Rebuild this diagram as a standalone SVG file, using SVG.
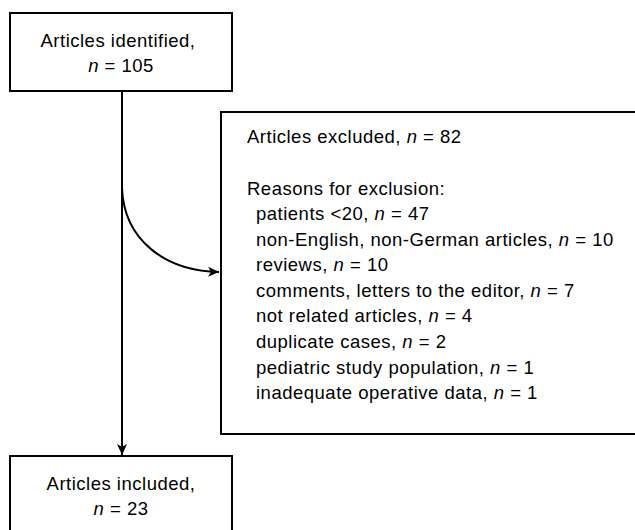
<svg xmlns="http://www.w3.org/2000/svg" width="635" height="530" viewBox="0 0 635 530">
<defs>
<style>
.box{fill:#fff;stroke:#000;stroke-width:2}
.t{font-family:"Liberation Sans",Arial,sans-serif;font-size:18.5px;letter-spacing:0.5px;fill:#000}
.c{text-anchor:middle}
.i{font-style:italic}
.ln{fill:none;stroke:#000;stroke-width:2}
</style>
<marker id="ah" viewBox="0 0 12 12" refX="11" refY="6" markerWidth="12" markerHeight="12" markerUnits="userSpaceOnUse" orient="auto">
<path d="M0,1 L11,6 L0,11 L3,6 Z" fill="#000"/>
</marker>
</defs>
<g id="connectors">
<path class="ln" d="M122,91 L122,455" marker-end="url(#ah)"/>
<path class="ln" d="M122,188 C124,240 165,271 219,272" marker-end="url(#ah)"/>
</g>
<g id="identified">
<rect class="box" x="10" y="13" width="222" height="78"/>
<text class="t c" x="118" y="47">Articles identified,</text>
<text class="t c" x="121" y="72"><tspan class="i">n</tspan> = 105</text>
</g>
<g id="excluded">
<rect class="box" x="221" y="112" width="430" height="322"/>
<text class="t" x="247" y="143">Articles excluded, <tspan class="i">n</tspan> = 82</text>
<text class="t" x="247" y="195">Reasons for exclusion:</text>
<text class="t" x="256" y="220">patients &lt;20, <tspan class="i">n</tspan> = 47</text>
<text class="t" x="256" y="246">non-English, non-German articles, <tspan class="i">n</tspan> = 10</text>
<text class="t" x="256" y="271">reviews, <tspan class="i">n</tspan> = 10</text>
<text class="t" x="256" y="297">comments, letters to the editor, <tspan class="i">n</tspan> = 7</text>
<text class="t" x="256" y="322">not related articles, <tspan class="i">n</tspan> = 4</text>
<text class="t" x="256" y="348">duplicate cases, <tspan class="i">n</tspan> = 2</text>
<text class="t" x="256" y="374">pediatric study population, <tspan class="i">n</tspan> = 1</text>
<text class="t" x="256" y="399">inadequate operative data, <tspan class="i">n</tspan> = 1</text>
</g>
<g id="included">
<rect class="box" x="10" y="456" width="222" height="90"/>
<text class="t c" x="121" y="490">Articles included,</text>
<text class="t c" x="121" y="515"><tspan class="i">n</tspan> = 23</text>
</g>
</svg>
